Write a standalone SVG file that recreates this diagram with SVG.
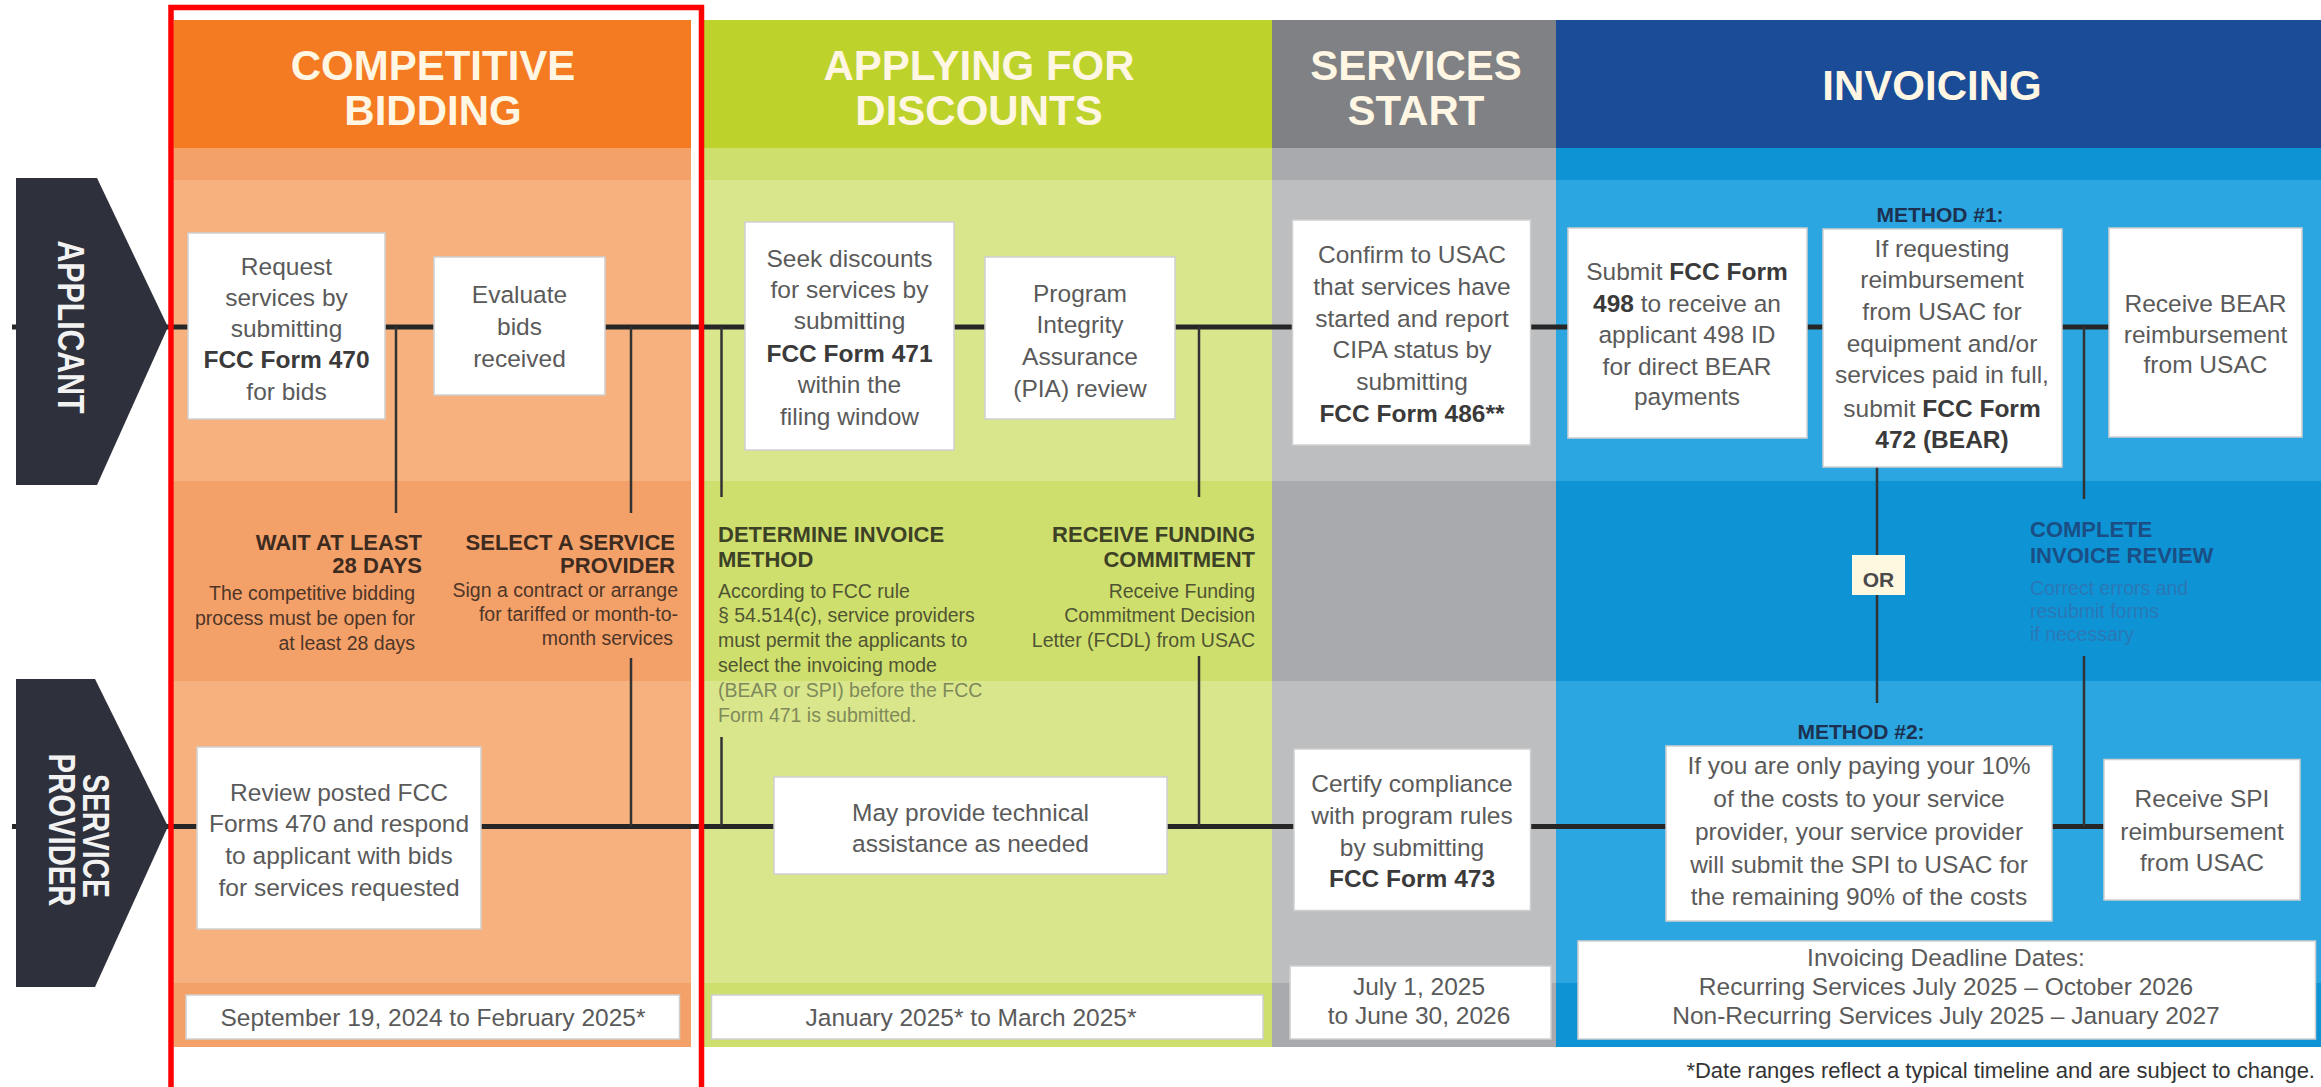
<svg xmlns="http://www.w3.org/2000/svg" width="2321" height="1087" viewBox="0 0 2321 1087">
<style>
text { font-family: "Liberation Sans", Arial, sans-serif; }
.hdr { font-size: 42px; font-weight: bold; fill: #FFF6E3; text-anchor: middle; }
.bx { fill: #FFFFFF; stroke: #CFCFCF; stroke-width: 1.5; }
.bt { font-size: 24.5px; fill: #5A5A5A; text-anchor: middle; }
.b { font-weight: bold; fill: #3A3A3A; }
.lane { stroke: #262626; stroke-width: 5; fill: none; }
.conn { stroke: #333333; stroke-width: 2.5; fill: none; }
.chev { fill: #2E303B; }
.cht { font-size: 36px; font-weight: bold; fill: #F2F2F2; text-anchor: middle; }
.lt { font-size: 22px; font-weight: bold; }
.ld { font-size: 19.5px; }
.oT { fill: #3D2B20; } .oD { fill: #4D3628; }
.gT { fill: #3D4226; } .gD { fill: #4F5533; } .gD2 { fill: #7F8A5A; }
.mT { fill: #1C3050; font-size: 21px; font-weight: bold; text-anchor: middle; }
.cT { fill: #1B4E85; } .cD { fill: #2B78B5; }
.end { text-anchor: end; }
</style>

<!-- column backgrounds -->
<g id="col-competitive-bidding">
  <rect x="173.5" y="20" width="517.5" height="128" fill="#F47B21"/>
  <rect x="173.5" y="148" width="517.5" height="32" fill="#F4A069"/>
  <rect x="173.5" y="180" width="517.5" height="301" fill="#F6B17F"/>
  <rect x="173.5" y="481" width="517.5" height="200" fill="#F4A069"/>
  <rect x="173.5" y="681" width="517.5" height="302" fill="#F6B17F"/>
  <rect x="173.5" y="983" width="517.5" height="64" fill="#F4A069"/>
  <text class="hdr" x="433" y="80">COMPETITIVE</text>
  <text class="hdr" x="433" y="125">BIDDING</text>
</g>
<g id="col-applying">
  <rect x="704" y="20" width="568" height="128" fill="#BDD22B"/>
  <rect x="704" y="148" width="568" height="32" fill="#CFDF6E"/>
  <rect x="704" y="180" width="568" height="301" fill="#D9E68C"/>
  <rect x="704" y="481" width="568" height="200" fill="#CFDF6E"/>
  <rect x="704" y="681" width="568" height="302" fill="#D9E68C"/>
  <rect x="704" y="983" width="568" height="64" fill="#CFDF6E"/>
  <text class="hdr" x="979" y="80">APPLYING FOR</text>
  <text class="hdr" x="979" y="125">DISCOUNTS</text>
</g>
<g id="col-services-start">
  <rect x="1272" y="20" width="284" height="128" fill="#7F8184"/>
  <rect x="1272" y="148" width="284" height="32" fill="#A8AAAD"/>
  <rect x="1272" y="180" width="284" height="301" fill="#BCBEC0"/>
  <rect x="1272" y="481" width="284" height="200" fill="#A8AAAD"/>
  <rect x="1272" y="681" width="284" height="302" fill="#BCBEC0"/>
  <rect x="1272" y="983" width="284" height="64" fill="#A8AAAD"/>
  <text class="hdr" x="1416" y="80">SERVICES</text>
  <text class="hdr" x="1416" y="125">START</text>
</g>
<g id="col-invoicing">
  <rect x="1556" y="20" width="765" height="128" fill="#1B4C97"/>
  <rect x="1556" y="148" width="765" height="32" fill="#0E93D5"/>
  <rect x="1556" y="180" width="765" height="301" fill="#2CA6E0"/>
  <rect x="1556" y="481" width="765" height="200" fill="#0E93D5"/>
  <rect x="1556" y="681" width="765" height="302" fill="#2CA6E0"/>
  <rect x="1556" y="983" width="765" height="64" fill="#0E93D5"/>
  <text class="hdr" x="1932" y="100">INVOICING</text>
</g>

<!-- connectors -->
<g id="connectors">
  <line class="lane" x1="12" y1="327" x2="2110" y2="327"/>
  <line class="lane" x1="12" y1="826.5" x2="2105" y2="826.5"/>
  <line class="conn" x1="396" y1="327" x2="396" y2="513"/>
  <line class="conn" x1="631" y1="327" x2="631" y2="513"/>
  <line class="conn" x1="631" y1="658" x2="631" y2="826.5"/>
  <line class="conn" x1="721.5" y1="327" x2="721.5" y2="497"/>
  <line class="conn" x1="721.5" y1="737" x2="721.5" y2="826.5"/>
  <line class="conn" x1="1199" y1="327" x2="1199" y2="497"/>
  <line class="conn" x1="1199" y1="656" x2="1199" y2="826.5"/>
  <line class="conn" x1="1877" y1="467" x2="1877" y2="703" stroke="#1A2A40"/>
  <line class="conn" x1="2084" y1="327" x2="2084" y2="499"/>
  <line class="conn" x1="2084" y1="656" x2="2084" y2="826.5"/>
</g>

<!-- lane labels -->
<g id="lane-applicant">
  <path class="chev" d="M16,178 L97,178 L168,327 L97,485 L16,485 Z"/>
  <text class="cht" transform="translate(58,327) rotate(90)" x="0" y="0" textLength="173" lengthAdjust="spacingAndGlyphs">APPLICANT</text>
</g>
<g id="lane-service-provider">
  <path class="chev" d="M16,679 L95,679 L168,826.5 L95,987 L16,987 Z"/>
  <text class="cht" transform="translate(83,836) rotate(90)" x="0" y="0" textLength="124" lengthAdjust="spacingAndGlyphs">SERVICE</text>
  <text class="cht" transform="translate(48.5,830) rotate(90)" x="0" y="0" textLength="153" lengthAdjust="spacingAndGlyphs">PROVIDER</text>
</g>

<!-- competitive bidding nodes -->
<g id="n-request">
  <rect class="bx" x="188" y="233" width="197" height="186"/>
  <text class="bt" x="286.5" y="275">Request</text>
  <text class="bt" x="286.5" y="306">services by</text>
  <text class="bt" x="286.5" y="337">submitting</text>
  <text class="bt b" x="286.5" y="368">FCC Form 470</text>
  <text class="bt" x="286.5" y="400">for bids</text>
</g>
<g id="n-evaluate">
  <rect class="bx" x="434" y="257" width="171" height="138"/>
  <text class="bt" x="519.5" y="303">Evaluate</text>
  <text class="bt" x="519.5" y="335">bids</text>
  <text class="bt" x="519.5" y="367">received</text>
</g>
<g id="n-wait">
  <text class="lt oT end" x="422" y="550">WAIT AT LEAST</text>
  <text class="lt oT end" x="422" y="573">28 DAYS</text>
  <text class="ld oD end" x="415" y="600">The competitive bidding</text>
  <text class="ld oD end" x="415" y="625">process must be open for</text>
  <text class="ld oD end" x="415" y="650">at least 28 days</text>
</g>
<g id="n-select">
  <text class="lt oT end" x="675" y="550">SELECT A SERVICE</text>
  <text class="lt oT end" x="675" y="573">PROVIDER</text>
  <text class="ld oD end" x="678" y="597">Sign a contract or arrange</text>
  <text class="ld oD end" x="678" y="621">for tariffed or month-to-</text>
  <text class="ld oD end" x="673" y="645">month services</text>
</g>
<g id="n-review">
  <rect class="bx" x="197" y="747" width="284" height="182"/>
  <text class="bt" x="339" y="801">Review posted FCC</text>
  <text class="bt" x="339" y="832">Forms 470 and respond</text>
  <text class="bt" x="339" y="864">to applicant with bids</text>
  <text class="bt" x="339" y="896">for services requested</text>
</g>
<g id="d-bidding">
  <rect class="bx" x="186" y="995" width="493.5" height="44"/>
  <text class="bt" x="433" y="1026">September 19, 2024 to February 2025*</text>
</g>

<!-- applying for discounts nodes -->
<g id="n-seek">
  <rect class="bx" x="745" y="222" width="209" height="228"/>
  <text class="bt" x="849.5" y="267">Seek discounts</text>
  <text class="bt" x="849.5" y="298">for services by</text>
  <text class="bt" x="849.5" y="329">submitting</text>
  <text class="bt b" x="849.5" y="362">FCC Form 471</text>
  <text class="bt" x="849.5" y="393">within the</text>
  <text class="bt" x="849.5" y="425">filing window</text>
</g>
<g id="n-pia">
  <rect class="bx" x="985" y="257" width="190" height="162"/>
  <text class="bt" x="1080" y="302">Program</text>
  <text class="bt" x="1080" y="333">Integrity</text>
  <text class="bt" x="1080" y="365">Assurance</text>
  <text class="bt" x="1080" y="397">(PIA) review</text>
</g>
<g id="n-determine">
  <text class="lt gT" x="718" y="542">DETERMINE INVOICE</text>
  <text class="lt gT" x="718" y="567">METHOD</text>
  <text class="ld gD" x="718" y="598">According to FCC rule</text>
  <text class="ld gD" x="718" y="622">§ 54.514(c), service providers</text>
  <text class="ld gD" x="718" y="647">must permit the applicants to</text>
  <text class="ld gD" x="718" y="672">select the invoicing mode</text>
  <text class="ld gD2" x="718" y="697">(BEAR or SPI) before the FCC</text>
  <text class="ld gD2" x="718" y="722">Form 471 is submitted.</text>
</g>
<g id="n-funding">
  <text class="lt gT end" x="1255" y="542">RECEIVE FUNDING</text>
  <text class="lt gT end" x="1255" y="567">COMMITMENT</text>
  <text class="ld gD end" x="1255" y="598">Receive Funding</text>
  <text class="ld gD end" x="1255" y="622">Commitment Decision</text>
  <text class="ld gD end" x="1255" y="647">Letter (FCDL) from USAC</text>
</g>
<g id="n-tech">
  <rect class="bx" x="774" y="777" width="393" height="97"/>
  <text class="bt" x="970.5" y="821">May provide technical</text>
  <text class="bt" x="970.5" y="852">assistance as needed</text>
</g>
<g id="d-applying">
  <rect class="bx" x="711.5" y="995" width="551.5" height="44"/>
  <text class="bt" x="971" y="1026">January 2025* to March 2025*</text>
</g>

<!-- services start nodes -->
<g id="n-confirm">
  <rect class="bx" x="1292.5" y="220" width="238" height="225"/>
  <text class="bt" x="1412" y="263">Confirm to USAC</text>
  <text class="bt" x="1412" y="295">that services have</text>
  <text class="bt" x="1412" y="327">started and report</text>
  <text class="bt" x="1412" y="358">CIPA status by</text>
  <text class="bt" x="1412" y="390">submitting</text>
  <text class="bt b" x="1412" y="422">FCC Form 486**</text>
</g>
<g id="n-certify">
  <rect class="bx" x="1294" y="749" width="236.5" height="161.5"/>
  <text class="bt" x="1412" y="792">Certify compliance</text>
  <text class="bt" x="1412" y="824">with program rules</text>
  <text class="bt" x="1412" y="855.5">by submitting</text>
  <text class="bt b" x="1412" y="887">FCC Form 473</text>
</g>
<g id="d-services">
  <rect class="bx" x="1290" y="966" width="261" height="73"/>
  <text class="bt" x="1419" y="995">July 1, 2025</text>
  <text class="bt" x="1419" y="1024">to June 30, 2026</text>
</g>

<!-- invoicing nodes -->
<g id="n-form498">
  <rect class="bx" x="1568" y="228" width="239" height="210"/>
  <text class="bt" x="1687" y="280">Submit <tspan class="b">FCC Form</tspan></text>
  <text class="bt" x="1687" y="312"><tspan class="b">498</tspan> to receive an</text>
  <text class="bt" x="1687" y="343">applicant 498 ID</text>
  <text class="bt" x="1687" y="375">for direct BEAR</text>
  <text class="bt" x="1687" y="405">payments</text>
</g>
<g id="n-method1">
  <text class="mT" x="1940" y="222">METHOD #1:</text>
  <rect class="bx" x="1823" y="229" width="239" height="238"/>
  <text class="bt" x="1942" y="257">If requesting</text>
  <text class="bt" x="1942" y="288">reimbursement</text>
  <text class="bt" x="1942" y="320">from USAC for</text>
  <text class="bt" x="1942" y="352">equipment and/or</text>
  <text class="bt" x="1942" y="383">services paid in full,</text>
  <text class="bt" x="1942" y="417">submit <tspan class="b">FCC Form</tspan></text>
  <text class="bt b" x="1942" y="448">472 (BEAR)</text>
</g>
<g id="n-bear">
  <rect class="bx" x="2109" y="228" width="193" height="209"/>
  <text class="bt" x="2205.5" y="312">Receive BEAR</text>
  <text class="bt" x="2205.5" y="343">reimbursement</text>
  <text class="bt" x="2205.5" y="373">from USAC</text>
</g>
<g id="n-or">
  <rect x="1852" y="555" width="53" height="40" fill="#FFF8E1"/>
  <text x="1878.5" y="587" font-size="21" font-weight="bold" fill="#4A4A4A" text-anchor="middle">OR</text>
</g>
<g id="n-complete">
  <text class="lt cT" x="2030" y="537">COMPLETE</text>
  <text class="lt cT" x="2030" y="563">INVOICE REVIEW</text>
  <text class="ld cD" x="2030" y="595" font-size="18">Correct errors and</text>
  <text class="ld cD" x="2030" y="618" font-size="18">resubmit forms</text>
  <text class="ld cD" x="2030" y="641" font-size="18">if necessary</text>
</g>
<g id="n-method2">
  <text class="mT" x="1861" y="739">METHOD #2:</text>
  <rect class="bx" x="1666" y="746" width="386" height="175"/>
  <text class="bt" x="1859" y="774">If you are only paying your 10%</text>
  <text class="bt" x="1859" y="807">of the costs to your service</text>
  <text class="bt" x="1859" y="840">provider, your service provider</text>
  <text class="bt" x="1859" y="873">will submit the SPI to USAC for</text>
  <text class="bt" x="1859" y="905">the remaining 90% of the costs</text>
</g>
<g id="n-spi">
  <rect class="bx" x="2104" y="759.5" width="196" height="140.5"/>
  <text class="bt" x="2202" y="807">Receive SPI</text>
  <text class="bt" x="2202" y="840">reimbursement</text>
  <text class="bt" x="2202" y="871">from USAC</text>
</g>
<g id="d-invoicing">
  <rect class="bx" x="1578" y="941" width="737.5" height="98"/>
  <text class="bt" x="1946" y="966">Invoicing Deadline Dates:</text>
  <text class="bt" x="1946" y="995">Recurring Services July 2025 – October 2026</text>
  <text class="bt" x="1946" y="1024">Non-Recurring Services July 2025 – January 2027</text>
</g>

<text x="2315" y="1078" font-size="22" fill="#333333" text-anchor="end">*Date ranges reflect a typical timeline and are subject to change.</text>

<!-- highlight frame -->
<rect x="171" y="7.5" width="530.5" height="1100" fill="none" stroke="#FF0000" stroke-width="5.5"/>
</svg>
